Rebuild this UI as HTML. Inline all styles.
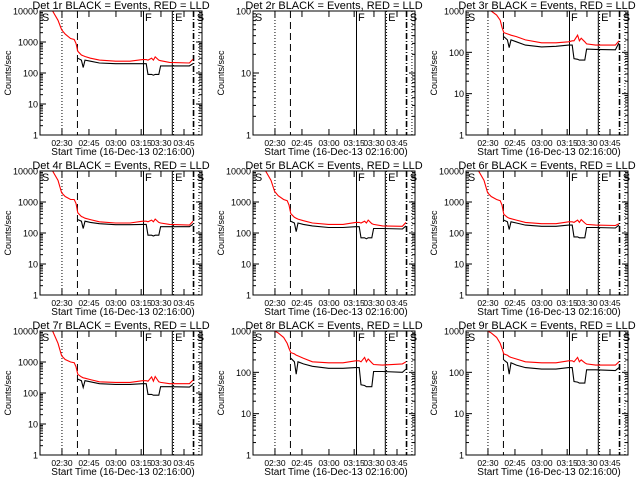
<!DOCTYPE html>
<html><head><meta charset="utf-8"><style>
html,body{margin:0;padding:0;background:#fff;}
svg{display:block;font-family:"Liberation Sans",sans-serif;}
</style></head><body>
<svg id="chart" width="640" height="480" viewBox="0 0 640 480" xmlns="http://www.w3.org/2000/svg">
<rect width="640" height="480" fill="#fff"/>
</svg>
<script>
// time in minutes since 02:16:00
const times = [7,10,12,14,17,19,20,21,23,24,25,28,33,42,50,57,59,60,62,63,64,66,67,72,83,85];
const xTickLabels = ["02:30","02:45","03:00","03:15","03:30","03:45"];
const xTickTimes = [12.2,27.2,42.2,56.2,67.2,80];
const detNames = ["1r","2r","3r","4r","5r","6r","7r","8r","9r"];
const yMaxDecade = [4,2,3,4,4,4,4,3,3];
const red1 = [10000,5000,2500,1800,1300,1200,900,500,380,360,340,300,260,240,240,270,270,260,300,260,330,260,250,220,210,280];
const blk1 = [null,null,null,null,null,null,null,300,260,150,260,240,210,200,200,200,200,90,90,85,90,90,170,170,170,200];
const red2 = [];
const blk2 = [];
const red3 = [null,null,null,1000,800,600,400,300,280,270,260,240,200,170,170,180,190,190,260,190,220,180,160,150,150,190];
const blk3 = [null,null,null,null,null,null,null,240,200,130,200,180,150,135,140,150,150,70,68,65,65,65,120,118,115,170];
const red4 = [10000,5000,2000,1500,1200,1200,900,450,340,320,300,270,230,210,210,240,240,230,260,230,280,220,210,190,180,240];
const blk4 = [null,null,null,null,null,null,null,270,240,140,240,220,200,185,185,190,190,85,85,80,85,85,160,160,160,190];
const red5 = [10000,5000,2200,1600,1200,1100,800,420,320,300,280,250,210,190,190,220,220,210,240,210,260,200,190,170,165,220];
const blk5 = [null,null,null,null,null,null,null,240,210,110,210,190,170,150,150,160,160,70,70,65,70,70,140,140,135,170];
const red6 = [10000,5000,2000,1500,1200,1100,800,400,320,300,290,260,220,200,200,230,230,220,260,220,270,210,190,180,175,200];
const blk6 = [null,null,null,null,null,null,null,260,230,130,230,210,180,165,165,180,180,75,75,70,70,70,150,150,145,180];
const red7 = [10000,4000,1600,1200,1000,950,700,400,330,310,300,270,230,220,220,250,250,240,330,240,340,230,220,200,200,260];
const blk7 = [null,null,null,null,null,null,null,280,250,150,250,230,200,190,190,200,200,90,90,85,85,85,160,160,155,190];
const red8 = [null,null,1000,900,700,500,380,300,280,260,250,220,180,170,170,190,190,180,230,180,210,170,155,150,160,180];
const blk8 = [null,null,null,null,null,null,null,220,180,90,180,160,140,125,125,130,130,50,48,45,45,45,105,105,100,120];
const red9 = [null,null,1000,900,700,500,380,280,260,240,230,210,180,170,170,190,190,180,230,180,200,170,160,150,150,180];
const blk9 = [null,null,null,null,null,null,null,200,170,90,170,150,130,120,120,130,130,60,58,55,55,55,115,115,110,130];
const redSeries = [red1,red2,red3,red4,red5,red6,red7,red8,red9];
const blkSeries = [blk1,blk2,blk3,blk4,blk5,blk6,blk7,blk8,blk9];
// vertical marker times
const markTimes = [12.2, 20.8, 57.5, 73.5, 74.2, 85.3, 88.3];
const markStyles = ["1,2","7,4","none","none","1,2","6,2,1,2","1,2"];

const NS="http://www.w3.org/2000/svg";
const svg=document.getElementById('chart');
const colLeft=[40,253,466], rowTop=[11,171,331], PW=162, PH=124, T0=0, T1=90;
function mk(tag,attrs,parent){const e=document.createElementNS(NS,tag);for(const k in attrs)e.setAttribute(k,attrs[k]);(parent||svg).appendChild(e);return e;}

for(let i=0;i<9;i++){
  const L=colLeft[i%3], T=rowTop[Math.floor(i/3)], B=T+PH, R=L+PW;
  const dmax=yMaxDecade[i];
  const xs=t=>L+(t-T0)/(T1-T0)*PW;
  const ys=v=>B-Math.log10(v)/dmax*PH;
  const g=mk('g',{});
  
  
  const clipId='clip'+i;
  const cp=mk('clipPath',{id:clipId},g);mk('rect',{x:L,y:T,width:PW,height:PH},cp);
  const tt=mk('text',{x:L+PW/2,y:T-2,'font-size':11,'text-anchor':'middle',fill:'#000'},g);
  tt.textContent='Det '+detNames[i]+' BLACK = Events, RED = LLD';
  
  
  const yl=mk('text',{x:0,y:0,'font-size':9,'text-anchor':'middle',transform:`translate(${L-29},${T+PH/2}) rotate(-90)`},g);
  yl.textContent='Counts/sec';
  
  
  const xl=mk('text',{x:L+PW/2+2,y:B+20,'font-size':10,'text-anchor':'middle'},g);
  xl.textContent='Start Time (16-Dec-13 02:16:00)';
  
  
  for(let d=0;d<=dmax;d++){
    const y=ys(Math.pow(10,d));
    mk('line',{x1:L,x2:L+6,y1:y,y2:y,stroke:'#000'},g);
    mk('line',{x1:R,x2:R-6,y1:y,y2:y,stroke:'#000'},g);
    const lb=mk('text',{x:L-2,y:y+3.5,'font-size':9,'text-anchor':'end'},g);
    lb.textContent=String(Math.pow(10,d));
    
    
    if(d<dmax){for(let m=2;m<=9;m++){const ym=ys(m*Math.pow(10,d));
      mk('line',{x1:L,x2:L+3,y1:ym,y2:ym,stroke:'#000'},g);
      mk('line',{x1:R,x2:R-3,y1:ym,y2:ym,stroke:'#000'},g);}}
  }
  for(let k=0;k<xTickTimes.length;k++){
    const x=xs(xTickTimes[k]);
    mk('line',{x1:x,x2:x,y1:B,y2:B-6,stroke:'#000'},g);mk('line',{x1:x,x2:x,y1:T,y2:T+6,stroke:'#000'},g);
    const lb=mk('text',{x:x,y:B+11,'font-size':8.5,'text-anchor':'middle'},g);
    lb.textContent=xTickLabels[k];
    
    
  }
  for(let k=0;k<markTimes.length;k++){
    const x=xs(markTimes[k]);
    const ln=mk('line',{x1:x,x2:x,y1:T,y2:B,stroke:'#000','stroke-width':k==5?1.6:1},g);
    if(markStyles[k]!=='none')ln.setAttribute('stroke-dasharray',markStyles[k]);
    
    
  }
  const letters=[['S',0.5],['F',57.8],['E',74.5],['S',86.5]];
  for(const [c,t] of letters){const lt=mk('text',{x:xs(t)+1,y:T+10,'font-size':11,fill:'#000'},g);lt.textContent=c;
    }
  function path(vals,color,name){
    let d='',pen=false;
    for(let j=0;j<vals.length;j++){const v=vals[j];
      if(v==null){pen=false;continue;}
      d+=(pen?'L':'M')+xs(times[j]).toFixed(1)+','+ys(v).toFixed(1);pen=true;}
    if(!d)return;
    const p=mk('path',{d:d,fill:'none',stroke:color,'stroke-width':1.1,'clip-path':`url(#${clipId})`},g);
    
    
  }
  path(blkSeries[i],'#000','events-line');
  path(redSeries[i],'#ff0000','lld-line');
  const fr=mk('rect',{x:L,y:T,width:PW,height:PH,fill:'none',stroke:'#000'},g);
  
  
}
</script>
</body></html>
